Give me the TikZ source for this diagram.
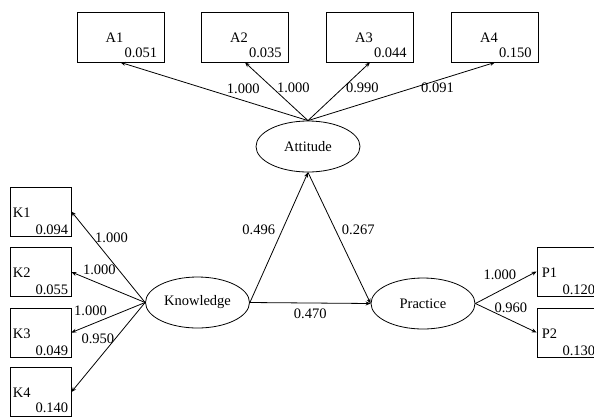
\documentclass[tikz,border=0pt]{standalone}
\usepackage{fontspec}
\setmainfont{Liberation Serif}
\usetikzlibrary{arrows.meta,shapes.geometric}

\begin{document}
\begin{tikzpicture}[
      x=1pt, y=-1pt,
      font=\fontsize{14.5}{16}\selectfont,
      lat/.style  = {ellipse, draw, line width=0.8pt, minimum width=104pt,
                     minimum height=51pt, inner sep=0pt},
      abox/.style = {rectangle, draw, line width=0.8pt, minimum width=87pt,
                     minimum height=50pt, inner sep=0pt},
      kbox/.style = {rectangle, draw, line width=0.8pt, minimum width=61pt,
                     minimum height=49pt, inner sep=0pt},
      ind/.style  = {inner sep=0pt},
      val/.style  = {inner sep=0pt, anchor=south east},
      lnk/.style  = {draw, line width=0.8pt, -{Stealth[length=5pt, width=4pt]}},
      cf/.style   = {inner sep=1pt},
    ]
    \clip (0,0) rectangle (594,416);

    %% ------------------------------------------------ latent variables
    \node[lat] (att) at (308, 146.5) {Attitude};
    \node[lat] (kno) at (197.5, 302.5) {Knowledge};
    \node[lat] (pra) at (423, 303.5) {Practice};

    %% ------------------------------------------------ indicators
    \foreach \i/\x/\v in {1/120.5/0.051, 2/245/0.035, 3/370/0.044, 4/495/0.150} {
      \node[abox] (a\i) at (\x, 37) {};
      \node[ind] (a\i l) at ([xshift=-6pt, yshift=-1pt]a\i.center) {A\i};
      \node[val] (a\i v) at ([xshift=-7pt, yshift=4pt]a\i.south east) {\v};
    }
    \foreach \i/\y/\v/\s in {1/211.5/0.094/2, 2/272/0.055/2, 3/332.5/0.049/2, 4/392/0.140/4} {
      \node[kbox] (k\i) at (40.5, \y) {};
      \node[ind, anchor=west] (k\i l) at ([xshift=3pt, yshift=-1pt]k\i.west) {K\i};
      \node[val] (k\i v) at ([xshift=-3pt, yshift=\s pt]k\i.south east) {\v};
    }
    \foreach \i/\y/\v in {1/271.5/0.120, 2/332.5/0.130} {
      \node[kbox] (p\i) at (567.5, \y) {};
      \node[ind, anchor=west] (p\i l) at ([xshift=5pt, yshift=-1pt]p\i.west) {P\i};
      \node[val] (p\i v) at ([xshift=-3pt, yshift=2pt]p\i.south east) {\v};
    }

    %% ------------------------------------------------ loadings
    \draw[lnk] (att.north) -- node[cf, pos=0.44, anchor=south west] {1.000} (a1.south);
    \draw[lnk] (att.north) -- node[cf, pos=0.56, anchor=west, xshift=3pt] {1.000} (a2.south);
    \draw[lnk] (att.north) -- node[cf, pos=0.56, anchor=west, xshift=2pt] {0.990} (a3.south);
    \draw[lnk] (att.north) -- node[cf, pos=0.56, anchor=west, xshift=7pt] {0.091} (a4.south);

    \draw[lnk] (kno.west) -- node[cf, pos=0.71, anchor=west, xshift=1pt] {1.000} (k1.east);
    \draw[lnk] (kno.west) -- node[cf, pos=0.86, anchor=south west] {1.000} (k2.east);
    \draw[lnk] (kno.west) -- node[cf, pos=0.5, anchor=south east] {1.000} (k3.east);
    \draw[lnk] (kno.west) -- node[cf, pos=0.4, anchor=east] {0.950} (k4.east);

    \draw[lnk] (pra.east) -- node[cf, pos=0.69, anchor=south east] {1.000} (p1.west);
    \draw[lnk] (pra.east) -- node[cf, pos=0.29, anchor=south west, yshift=-2pt] {0.960} (p2.west);

    %% ------------------------------------------------ structural paths
    \draw[lnk] (kno.east) -- node[cf, pos=0.56, anchor=east, xshift=-6pt] {0.496} (att.south);
    \draw[lnk] (att.south) -- node[cf, pos=0.44, anchor=west, xshift=5pt] {0.267} (pra.west);
    \draw[lnk] (kno.east) -- node[cf, below=4pt] {0.470} (pra.west);
  \end{tikzpicture}
\end{document}
